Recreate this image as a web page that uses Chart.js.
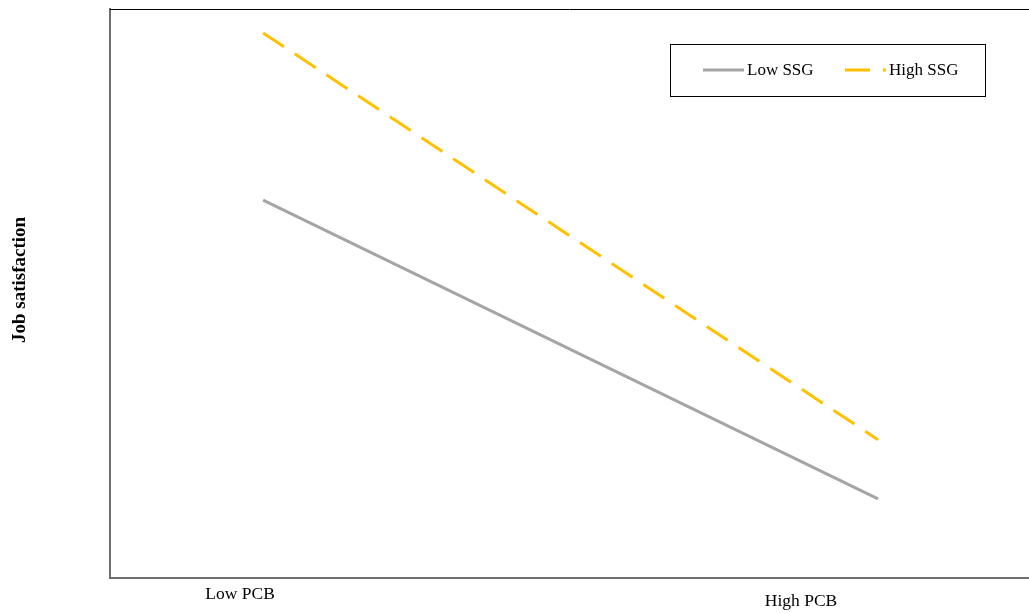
<!DOCTYPE html>
<html>
<head>
<meta charset="utf-8">
<script src="https://cdn.jsdelivr.net/npm/chart.js@4.4.1/dist/chart.umd.min.js"></script>
<style>
  html, body { margin: 0; padding: 0; background: #fff; }
  #wrap { width: 1029px; height: 613px; position: relative; }
</style>
</head>
<body>
<div id="wrap"><canvas id="chart"></canvas></div>
<script>
const categories = ['Low PCB', 'High PCB'];
const pcbValues = [0, 1];
const lowSSG = [6.64, 1.39];
const highSSG = [9.58, 2.43];
const seriesNames = ['Low SSG', 'High SSG'];
const yTitle = 'Job satisfaction';

const GRAY = '#a5a5a5';
const GOLD = '#ffc000';
const AXIS = '#6e6e6e';
const SERIF = '"Liberation Serif", "Times New Roman", serif';

const toPoints = (ys) => ys.map((y, i) => ({ x: pcbValues[i], y: y }));

// frame top line, category labels, y title, boxed legend
const decorPlugin = {
    id: 'decor',
    afterDraw (chart) {
        const ctx = chart.ctx;
        const area = chart.chartArea;
        const xs = chart.scales.x;

        ctx.save();
        ctx.strokeStyle = '#000';
        ctx.lineWidth = 1;
        ctx.beginPath();
        ctx.moveTo(area.left, area.top + 0.5);
        ctx.lineTo(chart.width, area.top + 0.5);
        ctx.stroke();

        ctx.fillStyle = '#000';
        ctx.font = '17.5px ' + SERIF;
        ctx.textAlign = 'center';
        ctx.textBaseline = 'middle';
        ctx.fillText(categories[0], xs.getPixelForValue(pcbValues[0]) - 23, area.bottom + 16);
        ctx.fillText(categories[1], xs.getPixelForValue(pcbValues[1]) - 77, area.bottom + 23);

        ctx.save();
        ctx.translate(20, 280);
        ctx.rotate(-Math.PI / 2);
        ctx.font = 'bold 19px ' + SERIF;
        ctx.fillText(yTitle, 0, 0);
        ctx.restore();

        // legend box
        ctx.strokeStyle = '#000';
        ctx.lineWidth = 1;
        ctx.strokeRect(670.5, 44.5, 315, 52);
        ctx.font = '17px ' + SERIF;
        ctx.textAlign = 'left';
        const ly = 70;
        chart.data.datasets.forEach((ds, i) => {
            const x0 = i === 0 ? 703 : 845;
            const len = 41;
            ctx.strokeStyle = ds.borderColor;
            ctx.lineWidth = 3;
            ctx.setLineDash(ds.borderDash || []);
            ctx.beginPath();
            ctx.moveTo(x0, ly);
            ctx.lineTo(x0 + len, ly);
            ctx.stroke();
            ctx.setLineDash([]);
            ctx.fillStyle = '#000';
            ctx.fillText(ds.label, x0 + len + 3, ly + 1);
        });
        ctx.restore();
    }
};

new Chart(document.getElementById('chart'), {
    type: 'line',
    data: {
        datasets: [
            {
                label: seriesNames[0],
                data: toPoints(lowSSG),
                borderColor: GRAY,
                borderWidth: 3,
                pointRadius: 0,
                fill: false
            },
            {
                label: seriesNames[1],
                data: toPoints(highSSG),
                borderColor: GOLD,
                borderWidth: 3,
                borderDash: [25, 13],
                pointRadius: 0,
                fill: false
            }
        ]
    },
    options: {
        responsive: true,
        maintainAspectRatio: false,
        animation: false,
        layout: { padding: { top: 9, right: 0, bottom: 0, left: 0 } },
        plugins: {
            legend: { display: false },
            tooltip: { enabled: false }
        },
        scales: {
            x: {
                type: 'linear',
                min: -0.249,
                max: 1.2455,
                grid: { display: false },
                ticks: { display: false },
                border: { display: true, color: AXIS, width: 2 },
                afterFit (scale) { scale.height = 35; }
            },
            y: {
                min: 0,
                max: 10,
                grid: { display: false },
                ticks: { display: false },
                border: { display: true, color: AXIS, width: 2 },
                afterFit (scale) { scale.width = 110; }
            }
        }
    },
    plugins: [decorPlugin]
});
</script>
</body>
</html>
